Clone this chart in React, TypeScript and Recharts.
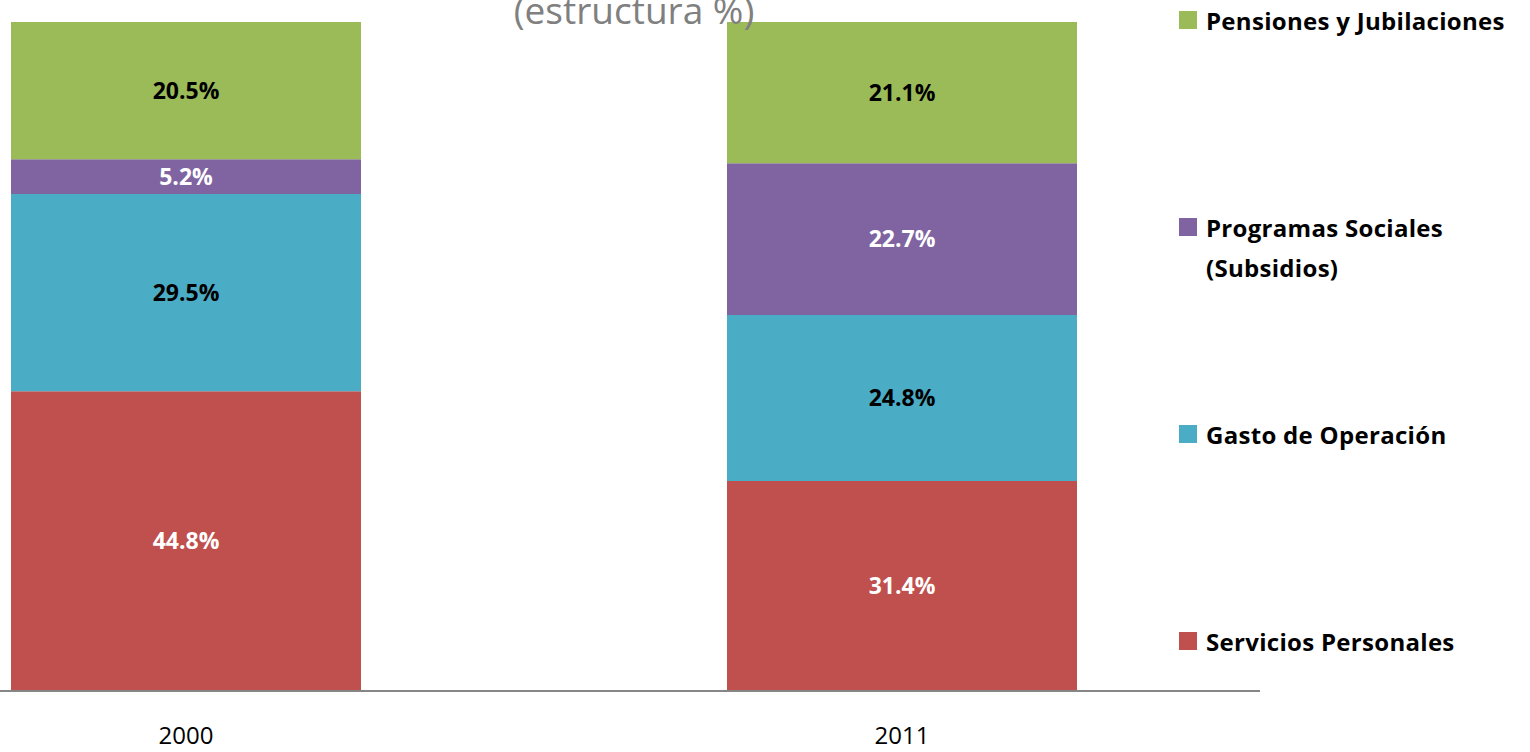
import { BarChart, Bar, XAxis, YAxis, LabelList } from "recharts";

const years = ["2000", "2011"];
const serviciosPersonales = [44.8, 31.4];
const gastoOperacion = [29.5, 24.8];
const programasSociales = [5.2, 22.7];
const pensiones = [20.5, 21.1];

const FONT = "'Open Sans', 'Noto Sans', sans-serif";

// bottom to top in the stack
const series = [
  { key: "servicios", name: "Servicios Personales", values: serviciosPersonales, color: "#C0504D", label: "#ffffff" },
  { key: "gasto", name: "Gasto de Operación", values: gastoOperacion, color: "#4BACC6", label: "#000000" },
  { key: "programas", name: "Programas Sociales (Subsidios)", values: programasSociales, color: "#8064A2", label: "#ffffff" },
  { key: "pensiones", name: "Pensiones y Jubilaciones", values: pensiones, color: "#9BBB59", label: "#000000" },
];

const data = years.map((year, i) => {
  const row: Record<string, string | number> = { year };
  series.forEach((s) => {
    row[s.key] = s.values[i];
  });
  return row;
});

export default function App() {
  return (
    <div
      style={{
        position: "fixed",
        left: 0,
        top: 0,
        width: 1530,
        height: 752,
        overflow: "hidden",
        background: "#fff",
        fontFamily: FONT,
      }}
    >
      <div style={{ position: "absolute", left: -172, top: 0 }}>
        <BarChart
          width={1702}
          height={752}
          data={data}
          margin={{ top: 22, right: 270, bottom: 0, left: 0 }}
        >
          <XAxis
            dataKey="year"
            height={61}
            tickLine={false}
            tickSize={0}
            tickMargin={36}
            axisLine={{ stroke: "#868686", strokeWidth: 2 }}
            tick={{ fontSize: 24, fill: "#000", fontFamily: FONT }}
          />
          <YAxis hide domain={[0, 100]} />
          {series.map((s) => (
            <Bar
              key={s.key}
              dataKey={s.key}
              name={s.name}
              stackId="a"
              fill={s.color}
              barSize={350}
              isAnimationActive={false}
            >
              <LabelList
                dataKey={s.key}
                position="center"
                formatter={(v: number) => `${v.toFixed(1)}%`}
                style={{ fill: s.label, fontSize: 23, fontWeight: 700, fontFamily: FONT }}
              />
            </Bar>
          ))}
        </BarChart>
      </div>

      <div
        style={{
          position: "absolute",
          left: 0,
          width: 1268,
          top: -15,
          textAlign: "center",
          fontSize: 37,
          color: "#808080",
          lineHeight: "50px",
          whiteSpace: "nowrap",
        }}
      >
        (estructura %)
      </div>

      <div style={{ position: "absolute", left: 1179, top: 1, width: 351 }}>
        {[...series].reverse().map((s) => (
          <div key={s.key} style={{ height: 207, display: "flex", alignItems: "flex-start" }}>
            <span
              style={{
                width: 18,
                height: 18,
                background: s.color,
                marginTop: 10,
                marginRight: 9,
                flex: "none",
              }}
            />
            <span
              style={{
                fontSize: 24,
                fontWeight: 700,
                lineHeight: "40px",
                color: "#000",
                letterSpacing: 0.3,
                width: s.key === "programas" ? 270 : 324,
                whiteSpace: s.key === "programas" ? "normal" : "nowrap",
              }}
            >
              {s.name}
            </span>
          </div>
        ))}
      </div>
    </div>
  );
}
